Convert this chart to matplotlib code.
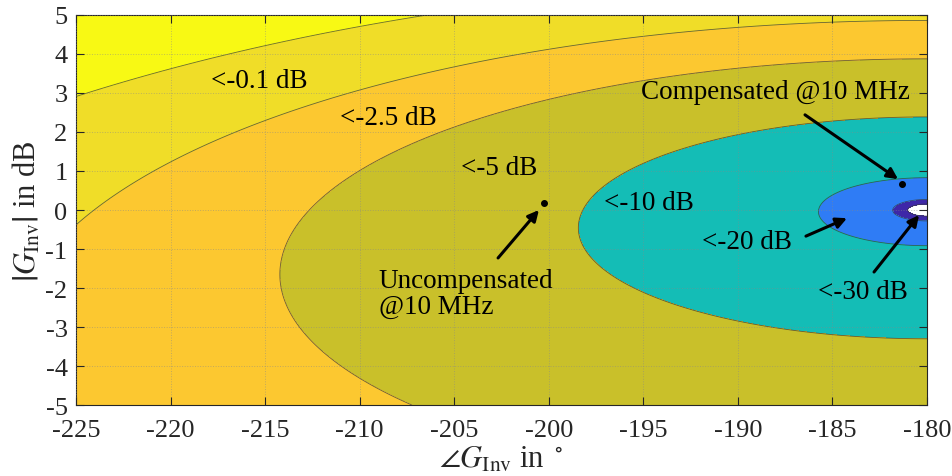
import numpy as np
import matplotlib
matplotlib.use("Agg")
import matplotlib.pyplot as plt

plt.rcParams['font.family'] = ['Liberation Serif', 'DejaVu Serif']
plt.rcParams['mathtext.fontset'] = 'stix'
plt.rcParams['axes.unicode_minus'] = False

# axis ranges (phase in degrees, gain in dB)
phase_range = [-225, -180]
gain_range = [-5, 5]
x_ticks = [-225, -220, -215, -210, -205, -200, -195, -190, -185, -180]
y_ticks = [-5, -4, -3, -2, -1, 0, 1, 2, 3, 4, 5]

# contour levels in dB and band colours
levels = [-35, -30, -20, -10, -5, -2.5, -0.1, 100]
band_colors = ['#3e27a8', '#2f7cf5', '#14bdb6', '#c9c02a', '#fcc830', '#f0dd28', '#f8f914']

# operating points
points_phase = [-200.25, -181.3]
points_gain = [0.18, 0.67]

# labels of the regions
region_labels = ['<-0.1 dB', '<-2.5 dB', '<-5 dB', '<-10 dB', '<-20 dB', '<-30 dB']

# field: |1 + G| in dB
ph = np.linspace(phase_range[0], phase_range[1], 1801)
gd = np.linspace(gain_range[0], gain_range[1], 1001)
PH, GD = np.meshgrid(ph, gd)
G = 10 ** (GD / 20) * np.exp(1j * np.deg2rad(PH))
Z = 20 * np.log10(np.maximum(np.abs(1 + G), 1e-12))

fig = plt.figure(figsize=(9.53, 4.77), dpi=100)
ax = fig.add_axes([0.0797, 0.1488, 0.8930, 0.8177])
ax.set_facecolor('white')
ax.contourf(PH, GD, Z, levels=levels, colors=band_colors)
ax.contour(PH, GD, Z, levels=levels[:-1], colors='#3a3a3a', linewidths=0.6,
           linestyles='solid', alpha=0.75)

ax.set_xlim(phase_range)
ax.set_ylim(gain_range)
ax.set_xticks(x_ticks)
ax.set_yticks(y_ticks)
ax.tick_params(direction='in', length=6, width=0.8, top=True, right=True,
               labelsize=19, colors='#262626')
ax.tick_params(axis='x', pad=10)
ax.tick_params(axis='y', pad=6)
for s in ax.spines.values():
    s.set_color('#262626')
    s.set_linewidth(0.8)
ax.grid(True, linestyle=':', color='#888888', linewidth=0.7, alpha=0.5)
ax.set_axisbelow(False)

ax.set_xlabel(r'$\angle G_{\mathrm{Inv}}$ in $^\circ$', fontsize=22, color='#262626', labelpad=3)
ax.set_ylabel(r'$\left|G_{\mathrm{Inv}}\right|$ in dB', fontsize=22, color='#262626', labelpad=2)

ax.plot(points_phase, points_gain, 'o', color='k', markersize=4, zorder=5)

fs = 19.5
ax.text(-215.3, 3.31, region_labels[0], fontsize=fs, ha='center', va='center')
ax.text(-208.5, 2.38, region_labels[1], fontsize=fs, ha='center', va='center')
ax.text(-202.6, 1.10, region_labels[2], fontsize=fs, ha='center', va='center')
ax.text(-194.7, 0.18, region_labels[3], fontsize=fs, ha='center', va='center')
ax.text(-189.5, -0.82, region_labels[4], fontsize=fs, ha='center', va='center')
ax.text(-183.4, -2.10, region_labels[5], fontsize=fs, ha='center', va='center')
ax.text(-188.0, 3.05, 'Compensated @10 MHz', fontsize=fs, ha='center', va='center')
ax.text(-209.0, -2.14, 'Uncompensated\n@10 MHz', fontsize=fs, ha='left', va='center',
        linespacing=1.05)

ap = dict(arrowstyle='-|>', lw=2.2, color='k', mutation_scale=16, shrinkA=0, shrinkB=0)
ax.annotate('', xy=(-200.52, 0.0), xytext=(-202.68, -1.23), arrowprops=ap)
ax.annotate('', xy=(-181.53, 0.79), xytext=(-186.45, 2.44), arrowprops=ap)
ax.annotate('', xy=(-184.23, -0.21), xytext=(-186.40, -0.67), arrowprops=ap)
ax.annotate('', xy=(-180.42, -0.13), xytext=(-182.80, -1.59), arrowprops=ap)

fig.savefig('out.png', dpi=100)
